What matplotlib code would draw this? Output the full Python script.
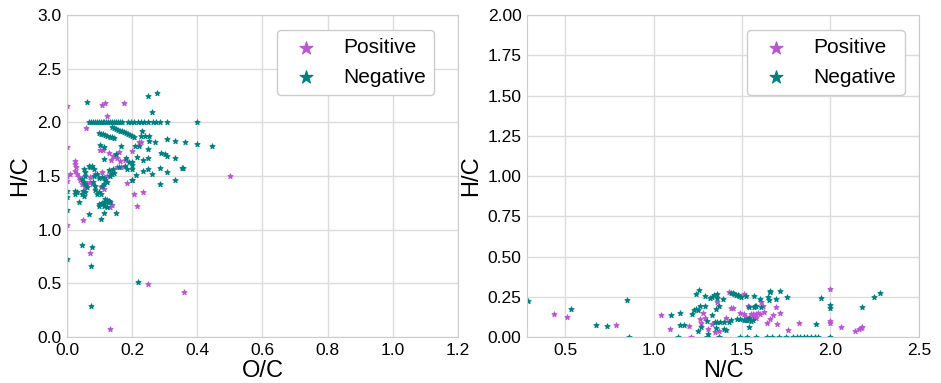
import matplotlib
matplotlib.use("Agg")
import matplotlib.pyplot as plt
import numpy as np

plt.rcParams['font.family'] = ['Liberation Sans', 'DejaVu Sans']

pos_color = "#ba55d3"
neg_color = "#008080"

# left panel: O/C vs H/C
pos_oc = [0.0, 0.106, 0.117, 0.175, 0.124, 0.059, 0.10, 0.11, 0.13, 0.20, 0.22, 0.228, 0.134, 0.16, 0.177, 0.14,
          0.024, 0.026, 0.028, 0.026, 0.031, 0.036, 0.041, 0.046, 0.056, 0.061, 0.072, 0.077, 0.103, 0.113, 0.072,
          0.087, 0.108, 0.123, 0.133, 0.138, 0.153, 0.167, 0.163, 0.153, 0.145, 0.185, 0.207, 0.234, 0.215, 0.048,
          0.133, 0.128, 0.138, 0.0, 0.072, 0.25, 0.358, 0.131, 0.5, 0.0, 0.0, 0.0, 0.01]
pos_hc = [2.154, 2.16, 2.18, 2.176, 2.06, 1.944, 1.74, 1.745, 1.71, 1.73, 1.82, 1.815, 1.645, 1.72, 1.645, 1.69,
          1.642, 1.61, 1.58, 1.55, 1.52, 1.49, 1.46, 1.426, 1.395, 1.426, 1.44, 1.426, 1.395, 1.38, 1.49,
          1.52, 1.535, 1.50, 1.53, 1.545, 1.58, 1.58, 1.64, 1.67, 1.69, 1.435, 1.333, 1.349, 1.216, 1.093,
          1.21, 1.27, 1.23, 1.04, 0.784, 0.494, 0.422, 0.078, 1.5, 1.77, 1.50, 1.45, 1.52]

neg_oc = [0.067, 0.073, 0.079, 0.085, 0.091, 0.097, 0.103, 0.109, 0.115, 0.121, 0.127, 0.133, 0.139, 0.145,
          0.151, 0.157, 0.163, 0.170, 0.186, 0.196, 0.206, 0.217, 0.227, 0.237, 0.250, 0.265, 0.273, 0.285,
          0.306, 0.399,
          0.098, 0.105, 0.111, 0.118, 0.124, 0.131, 0.137, 0.144,
          0.139, 0.145, 0.151, 0.157, 0.163, 0.169, 0.175, 0.181, 0.188, 0.194, 0.200, 0.206,
          0.226, 0.240, 0.23, 0.251, 0.271, 0.306, 0.333, 0.363, 0.399, 0.444, 0.251, 0.21, 0.222, 0.165,
          0.10, 0.113, 0.15, 0.248, 0.277, 0.062, 0.261, 0.248, 0.289, 0.300, 0.307, 0.333, 0.182, 0.113,
          0.248, 0.232, 0.215, 0.201, 0.190,
          0.286, 0.307, 0.357, 0.249, 0.232, 0.211, 0.199, 0.286, 0.333, 0.142, 0.130, 0.160, 0.179, 0.185,
          0.200, 0.200, 0.262, 0.352, 0.198,
          0.067, 0.072, 0.077, 0.082, 0.051, 0.054, 0.056, 0.046, 0.051, 0.056, 0.061, 0.048, 0.046, 0.051,
          0.056, 0.026, 0.026, 0.031, 0.038, 0.069, 0.103, 0.113, 0.151, 0.116, 0.123, 0.128, 0.133, 0.120,
          0.113, 0.107, 0.097, 0.097, 0.113, 0.123, 0.087, 0.092, 0.097, 0.103, 0.080, 0.085, 0.108, 0.113,
          0.118, 0.123, 0.133, 0.138, 0.143, 0.113, 0.108, 0.097, 0.092, 0.082, 0.0, 0.0, 0.0, 0.0, 0.046,
          0.077, 0.075, 0.075, 0.219]
neg_hc = [2.0] * 30 + \
         [1.90, 1.894, 1.888, 1.882, 1.875, 1.868, 1.861, 1.855,
          1.954, 1.946, 1.938, 1.931, 1.923, 1.916, 1.908, 1.900, 1.892, 1.884, 1.876, 1.868,
          1.876, 1.876, 1.923, 1.877, 1.815, 1.846, 1.83, 1.815, 1.80, 1.775, 1.83, 1.78, 1.78, 1.775,
          1.79, 1.77, 1.707, 2.247, 2.278, 2.185, 2.10, 1.747, 1.713, 1.708, 1.69, 1.667, 1.667, 1.66,
          1.667, 1.645, 1.68, 1.627, 1.63,
          1.574, 1.537, 1.574, 1.568, 1.545, 1.512, 1.466, 1.429, 1.466, 1.568, 1.56, 1.58, 1.596, 1.565,
          1.565, 1.60, 1.52, 1.574, 1.463,
          1.596, 1.58, 1.596, 1.565, 1.565, 1.534, 1.503, 1.472, 1.44, 1.426, 1.395, 1.364, 1.333, 1.318,
          1.349, 1.364, 1.333, 1.349, 1.256, 1.148, 1.102, 1.154, 1.154, 1.29, 1.28, 1.27, 1.26, 1.26,
          1.26, 1.25, 1.24, 1.225, 1.216, 1.21, 1.367, 1.336, 1.35, 1.336, 1.44, 1.41, 1.49, 1.478,
          1.463, 1.447, 1.5, 1.515, 1.53, 1.426, 1.41, 1.478, 1.52, 1.50, 1.18, 1.36, 1.30, 0.73, 0.855,
          0.84, 0.663, 0.29, 0.516]

# right panel: N/C vs H/C
pos_nc = [0.438, 0.509, 0.789, 1.044, 1.095, 1.213, 1.26, 1.27, 1.31, 1.33, 1.35, 1.36, 1.428, 1.513, 1.44,
          1.45, 1.41, 1.49, 1.513, 1.52, 1.535, 1.55, 1.56, 1.57, 1.58, 1.59, 1.60, 1.565, 1.58, 1.627,
          1.64, 1.675, 1.694, 1.62, 1.61, 1.70, 2.0, 2.0, 2.0, 1.822, 1.76, 1.712, 1.66, 1.30, 1.37, 1.28,
          1.20, 2.06, 2.14, 2.16, 2.17, 2.18, 1.37, 1.29]
pos_hcn = [0.143, 0.124, 0.072, 0.134, 0.047, 0.0, 0.11, 0.085, 0.05, 0.08, 0.03, 0.22, 0.28, 0.266, 0.18,
           0.182, 0.12, 0.15, 0.144, 0.124, 0.19, 0.144, 0.14, 0.136, 0.144, 0.146, 0.14, 0.124, 0.12, 0.154,
           0.087, 0.134, 0.185, 0.195, 0.215, 0.08, 0.3, 0.1, 0.09, 0.089, 0.043, 0.147, 0.11, 0.0, 0.0, 0.15,
           0.07, 0.064, 0.04, 0.05, 0.055, 0.06, 0.035, 0.115]

neg_nc = [0.29, 0.532, 0.673, 0.739, 0.851, 0.86, 1.10, 1.152, 1.15, 1.17, 1.215, 1.23, 1.24, 1.25, 1.257,
          1.24, 1.29, 1.26, 1.29, 1.32, 1.33, 1.34, 1.36, 1.36, 1.39, 1.355, 1.33, 1.37, 1.30, 1.266, 1.345,
          1.36, 1.373, 1.398, 1.426, 1.355, 1.41, 1.437, 1.447, 1.456, 1.466, 1.475, 1.485, 1.494, 1.522,
          1.565, 1.60, 1.647, 1.656, 1.694, 1.54, 1.565, 1.58, 1.608, 1.54, 1.49, 1.51, 1.52, 1.53, 1.55,
          1.56, 1.47, 1.44, 1.659, 1.712, 1.754, 1.65, 1.573, 1.949, 2.0, 2.0, 2.18, 2.246, 2.28, 1.92,
          1.25, 1.31, 1.40, 1.54,
          1.14, 1.30, 1.37, 1.49, 1.53, 1.58, 1.64, 1.67, 1.71, 1.75, 1.79, 1.81, 1.83, 1.85, 1.87, 1.89,
          1.91, 1.93, 2.0]
neg_hcn = [0.225, 0.171, 0.074, 0.068, 0.229, 0.0, 0.134, 0.15, 0.077, 0.077, 0.14, 0.17, 0.172, 0.168, 0.29,
           0.27, 0.256, 0.195, 0.195, 0.24, 0.25, 0.26, 0.27, 0.245, 0.235, 0.175, 0.134, 0.195, 0.10, 0.063,
           0.093, 0.093, 0.093, 0.093, 0.093, 0.053, 0.043, 0.276, 0.272, 0.268, 0.263, 0.259, 0.254, 0.25,
           0.256, 0.256, 0.235, 0.25, 0.28, 0.235, 0.189, 0.185, 0.195, 0.185, 0.12, 0.114, 0.108, 0.104,
           0.108, 0.10, 0.104, 0.114, 0.108, 0.285, 0.285, 0.25, 0.23, 0.19, 0.24, 0.2, 0.18, 0.188, 0.25,
           0.275, 0.079, 0.04, 0.02, 0.05, 0.06] + [0.0] * 19

fig = plt.figure(figsize=(9.41, 3.83), dpi=100)
ax1 = fig.add_axes([0.0712, 0.1201, 0.4155, 0.8407])
ax2 = fig.add_axes([0.560, 0.1201, 0.4166, 0.8407])


def style(ax):
    ax.set_axisbelow(True)
    ax.grid(True, color='#dcdcdc', linewidth=1.0)
    for s in ax.spines.values():
        s.set_color('#cccccc')
    ax.tick_params(length=0, labelsize=12.5, pad=4)


for ax, (px, py, nx, ny) in zip([ax1, ax2], [(pos_oc, pos_hc, neg_oc, neg_hc),
                                             (pos_nc, pos_hcn, neg_nc, neg_hcn)]):
    ax.scatter(px, py, marker='*', s=14, color=pos_color, edgecolors=pos_color,
               linewidths=0.8, label='Positive')
    ax.scatter(nx, ny, marker='*', s=14, color=neg_color, edgecolors=neg_color,
               linewidths=0.8, label='Negative')
    style(ax)
    ax.set_ylabel('H/C', fontsize=17, labelpad=4)

ax1.set_xlim(0, 1.2)
ax1.set_ylim(0, 3.0)
ax1.set_xticks(np.arange(0, 1.21, 0.2))
ax1.set_yticks(np.arange(0, 3.01, 0.5))
ax1.set_xlabel('O/C', fontsize=17, labelpad=2)

ax2.set_xlim(0.285, 2.5)
ax2.set_ylim(0, 2.0)
ax2.set_xticks([0.5, 1.0, 1.5, 2.0, 2.5])
ax2.set_yticks(np.arange(0, 2.01, 0.25))
ax2.set_xlabel('N/C', fontsize=17, labelpad=2)

for ax, anchor in [(ax1, (0.966, 0.986)), (ax2, (0.99, 0.986))]:
    ax.legend(loc='upper right', bbox_to_anchor=anchor, fontsize=15, markerscale=2.6,
              frameon=True, edgecolor='#cccccc', framealpha=1.0, borderpad=0.4)

fig.savefig('out.png', dpi=100)
